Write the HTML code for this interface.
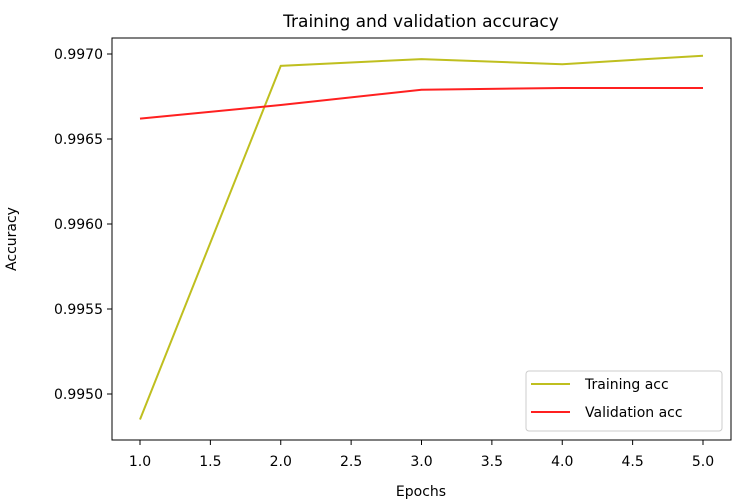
<!DOCTYPE html>
<html><head><meta charset="utf-8"><style>
body{margin:0;background:#fff;}
svg{display:block;font-family:"DejaVu Sans","Liberation Sans",sans-serif;}
</style></head><body>
<svg width="741" height="504" id="chart">
<rect x="0" y="0" width="741" height="504" fill="#fff"/>
<text x="421" y="27" font-size="17" text-anchor="middle" fill="#000">Training and validation accuracy</text>
<g id="yt"></g><g id="xt"></g><g id="lines"></g>
<rect x="112" y="38" width="619" height="402" fill="none" stroke="#000" stroke-width="1"/>
<text x="421" y="496" font-size="14" text-anchor="middle">Epochs</text>
<text x="16" y="239" font-size="14" text-anchor="middle" transform="rotate(-90 16 239)">Accuracy</text>
<g>
<rect x="526" y="371" width="196" height="60" rx="3" fill="#fff" stroke="#ccc"/>
<line x1="531" y1="384" x2="570" y2="384" stroke="#bfbf1f" stroke-width="2"/>
<text x="585" y="389" font-size="14">Training acc</text>
<line x1="531" y1="412" x2="570" y2="412" stroke="#ff2020" stroke-width="2"/>
<text x="585" y="417" font-size="14">Validation acc</text>
</g>
</svg>
<script>
const epochs=[1,2,3,4,5];
const trainAcc=[0.99485,0.99693,0.99697,0.99694,0.99699];
const valAcc=[0.99662,0.99670,0.99679,0.99680,0.99680];
const yTicks=[0.9950,0.9955,0.9960,0.9965,0.9970];
const xTicks=[1.0,1.5,2.0,2.5,3.0,3.5,4.0,4.5,5.0];
const NS="http://www.w3.org/2000/svg";
function xs(v){return 140+(v-1)*(703-140)/4;}
function ys(v){return 394-(v-0.995)*(340/0.002);}
const yt=document.getElementById('yt'),xt=document.getElementById('xt'),lg=document.getElementById('lines');
yTicks.forEach(t=>{
 const l=document.createElementNS(NS,'line');
 l.setAttribute('x1',107);l.setAttribute('x2',112);l.setAttribute('y1',ys(t));l.setAttribute('y2',ys(t));l.setAttribute('stroke','#000');
 
 
 yt.appendChild(l);
 const tx=document.createElementNS(NS,'text');
 tx.setAttribute('x',103);tx.setAttribute('y',ys(t)+5);tx.setAttribute('font-size','14');tx.setAttribute('text-anchor','end');
 tx.textContent=t.toFixed(4);
 
 
 yt.appendChild(tx);
});
xTicks.forEach(t=>{
 const l=document.createElementNS(NS,'line');
 l.setAttribute('x1',xs(t));l.setAttribute('x2',xs(t));l.setAttribute('y1',440);l.setAttribute('y2',445);l.setAttribute('stroke','#000');
 
 
 xt.appendChild(l);
 const tx=document.createElementNS(NS,'text');
 tx.setAttribute('x',xs(t));tx.setAttribute('y',466);tx.setAttribute('font-size','14');tx.setAttribute('text-anchor','middle');
 tx.textContent=t.toFixed(1);
 
 
 xt.appendChild(tx);
});
function draw(vals,color,name){
 const p=document.createElementNS(NS,'polyline');
 p.setAttribute('points',epochs.map((e,i)=>xs(e)+','+ys(vals[i])).join(' '));
 p.setAttribute('fill','none');p.setAttribute('stroke',color);p.setAttribute('stroke-width','2');
 
 
 lg.appendChild(p);
}
draw(trainAcc,'#bfbf1f','training-acc-line');
draw(valAcc,'#ff2020','validation-acc-line');
</script>
</body></html>
